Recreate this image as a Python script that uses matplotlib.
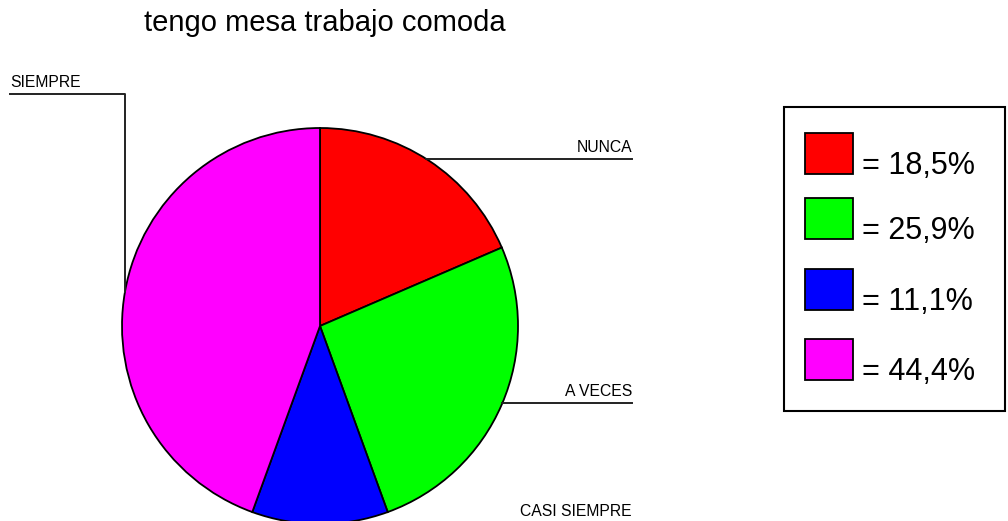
import numpy as np
import matplotlib
matplotlib.use("Agg")
import matplotlib.pyplot as plt
from matplotlib.patches import Rectangle

plt.rcParams['font.family'] = ['Liberation Sans', 'DejaVu Sans']

# data
title = "tengo mesa trabajo comoda"
categories = ["NUNCA", "A VECES", "CASI SIEMPRE", "SIEMPRE"]
percents = [18.5, 25.9, 11.1, 44.4]
colors = ["#ff0000", "#00ff00", "#0000ff", "#ff00ff"]

W, H = 1008, 521
fig = plt.figure(figsize=(W / 100, H / 100), dpi=100)
ax = fig.add_axes([0, 0, 1, 1])

# pie in pixel coords (y flipped: 0 at bottom)
cx, cy, r = 320, H - 326, 198
ax.pie(percents, colors=colors, startangle=90, counterclock=False,
       center=(cx, cy), radius=r, frame=True,
       wedgeprops=dict(edgecolor="black", linewidth=1.3))
ax.set_xlim(0, W)
ax.set_ylim(0, H)
ax.set_aspect("auto")
ax.axis("off")

ax.text(325, H - 31, title, fontsize=21, ha="center", va="baseline")


def edge_x(y_px, side):
    dy = (H - y_px) - cy
    return cx + side * np.sqrt(r ** 2 - dy ** 2)


lab_fs = 11.3
# NUNCA
y = 159
ax.plot([edge_x(y, 1), 632], [H - y, H - y], color="#222222", lw=1.4)
ax.text(632, H - 152, categories[0], fontsize=lab_fs, ha="right", va="baseline")
# A VECES
y = 403
ax.plot([edge_x(y, 1), 632], [H - y, H - y], color="#222222", lw=1.4)
ax.text(632, H - 396, categories[1], fontsize=lab_fs, ha="right", va="baseline")
# CASI SIEMPRE
ax.text(632, H - 516, categories[2], fontsize=lab_fs, ha="right", va="baseline")
# SIEMPRE
y0 = 94
ax.plot([10, 125, 125], [H - y0, H - y0, H - 292], color="#222222", lw=1.4)
ax.text(10, H - 87, categories[3], fontsize=lab_fs, ha="left", va="baseline")

# legend box
ax.add_patch(Rectangle((784, H - 411), 221, 304, fill=False,
                       edgecolor="black", lw=1.5))
sq_tops = [133, 198, 269, 339]
for top, p, c in zip(sq_tops, percents, colors):
    ax.add_patch(Rectangle((805, H - top - 41), 48, 41, facecolor=c,
                           edgecolor="black", lw=1.3))
    lab = "= " + f"{p:.1f}".replace(".", ",") + "%"
    ax.text(862, H - top - 41, lab, fontsize=22, ha="left", va="baseline")

fig.savefig("out.png", dpi=100)
